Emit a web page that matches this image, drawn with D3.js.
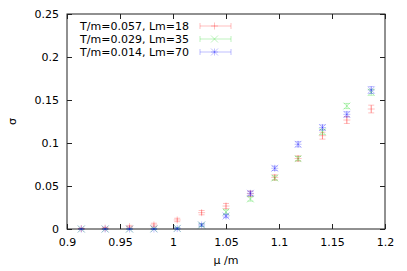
<!DOCTYPE html>
<html>
<head>
<meta charset="utf-8">
<script src="https://cdn.jsdelivr.net/npm/d3@7"></script>
<style>
  body { margin: 0; background: #fff; }
  text { font-family: "DejaVu Sans", sans-serif; font-size: 11px; fill: #000; }
</style>
</head>
<body>
<div id="chart"></div>
<script>
const mu = [0.9135, 0.936, 0.959, 0.982, 1.004, 1.027, 1.050, 1.073, 1.096, 1.118, 1.141, 1.164, 1.187];
const sigma18 = [0.0005, 0.001, 0.0027, 0.0047, 0.0105, 0.019, 0.0267, 0.041, 0.060, 0.082, 0.1085, 0.1267, 0.1395];
const err18 = [0.0005, 0.001, 0.0015, 0.002, 0.002, 0.0025, 0.003, 0.003, 0.003, 0.003, 0.004, 0.004, 0.0045];
const sigma35 = [0, 0, 0, 0.0003, 0.0008, 0.0045, 0.0198, 0.0349, 0.0593, 0.0818, 0.113, 0.143, 0.159];
const err35 = [0.0005, 0.0005, 0.0005, 0.0008, 0.001, 0.0015, 0.0025, 0.0025, 0.0025, 0.0025, 0.003, 0.003, 0.0035];
const sigma70 = [0, 0, 0, 0, 0.0005, 0.0047, 0.0151, 0.0415, 0.0706, 0.0985, 0.118, 0.1333, 0.1616];
const err70 = [0.0005, 0.0005, 0.0005, 0.0005, 0.001, 0.0015, 0.002, 0.0025, 0.0025, 0.003, 0.003, 0.003, 0.004];
const labels = ["T/m=0.057, Lm=18", "T/m=0.029, Lm=35", "T/m=0.014, Lm=70"];
const xTicks = [0.9, 0.95, 1, 1.05, 1.1, 1.15, 1.2];
const yTicks = [0, 0.05, 0.1, 0.15, 0.2, 0.25];

const margin = {top: 14, right: 22, bottom: 42, left: 67},
    width = 407 - margin.left - margin.right,
    height = 271 - margin.top - margin.bottom;

const series = [
    {label: labels[0], y: sigma18, e: err18, color: "rgba(255,0,0,0.25)", shape: "plus"},
    {label: labels[1], y: sigma35, e: err35, color: "rgba(0,210,0,0.25)", shape: "cross"},
    {label: labels[2], y: sigma70, e: err70, color: "rgba(0,0,255,0.25)", shape: "star"}
];

const x = d3.scaleLinear().domain([0.9, 1.2]).range([0, width]);
const y = d3.scaleLinear().domain([0, 0.25]).range([height, 0]);

const svg = d3.select("#chart").append("svg")
    .attr("width", 407).attr("height", 271)
    .append("g")
    .attr("transform", "translate(" + margin.left + "," + margin.top + ")");

// axes, ticks inside and mirrored
const fmt = d => String(d);
svg.append("g").attr("transform", "translate(0," + height + ")")
    .call(d3.axisBottom(x).tickValues(xTicks).tickFormat(fmt).tickSizeInner(-5).tickSizeOuter(0).tickPadding(9));
svg.append("g")
    .call(d3.axisTop(x).tickValues(xTicks).tickFormat("").tickSizeInner(-5).tickSizeOuter(0));
svg.append("g")
    .call(d3.axisLeft(y).tickValues(yTicks).tickFormat(fmt).tickSizeInner(-5).tickSizeOuter(0).tickPadding(8));
svg.append("g").attr("transform", "translate(" + width + ",0)")
    .call(d3.axisRight(y).tickValues(yTicks).tickFormat("").tickSizeInner(-5).tickSizeOuter(0));
svg.selectAll(".domain").remove();
svg.selectAll(".tick line").attr("stroke", "#222");
svg.selectAll(".tick text").style("font-family", "DejaVu Sans, sans-serif").style("font-size", "11px").attr("fill", "#000");
svg.append("rect").attr("width", width).attr("height", height)
    .attr("fill", "none").attr("stroke", "#222").attr("stroke-width", 1);

function marker(g, cx, cy, shape, color) {
    const r = 3.5;
    const p = d3.path();
    if (shape === "plus" || shape === "star") {
        p.moveTo(cx - r, cy); p.lineTo(cx + r, cy);
        p.moveTo(cx, cy - r); p.lineTo(cx, cy + r);
    }
    if (shape === "cross" || shape === "star") {
        p.moveTo(cx - r, cy - r); p.lineTo(cx + r, cy + r);
        p.moveTo(cx - r, cy + r); p.lineTo(cx + r, cy - r);
    }
    g.append("path").attr("d", p.toString()).attr("stroke", color).attr("fill", "none");
}

series.forEach(s => {
    const g = svg.append("g");
    mu.forEach((m, i) => {
        const cx = x(m), cy = y(s.y[i]);
        const y0 = y(s.y[i] - s.e[i]), y1 = y(s.y[i] + s.e[i]);
        const p = d3.path();
        p.moveTo(cx, y0); p.lineTo(cx, y1);
        p.moveTo(cx - 3, y0); p.lineTo(cx + 3, y0);
        p.moveTo(cx - 3, y1); p.lineTo(cx + 3, y1);
        g.append("path").attr("d", p.toString()).attr("stroke", s.color).attr("fill", "none");
        marker(g, cx, cy, s.shape, s.color);
    });
});

// legend
const legend = svg.append("g").selectAll("g").data(series).enter().append("g")
    .attr("transform", (d, i) => "translate(0," + (12 + i * 13) + ")");
legend.append("text").attr("x", 122).attr("dy", "0.35em").attr("text-anchor", "end").text(d => d.label);
legend.each(function (d) {
    const g = d3.select(this);
    const p = d3.path();
    p.moveTo(133, 0); p.lineTo(164, 0);
    p.moveTo(133, -3); p.lineTo(133, 3);
    p.moveTo(164, -3); p.lineTo(164, 3);
    g.append("path").attr("d", p.toString()).attr("stroke", d.color).attr("fill", "none");
    marker(g, 147.5, 0, d.shape, d.color);
});

// axis labels
svg.append("text").attr("x", width / 2).attr("y", height + 35).attr("text-anchor", "middle").text("μ /m");
svg.append("text").attr("transform", "translate(-55," + (height / 2) + ") rotate(-90)")
    .attr("text-anchor", "middle").attr("dy", "0.35em").text("σ");
</script>
</body>
</html>
